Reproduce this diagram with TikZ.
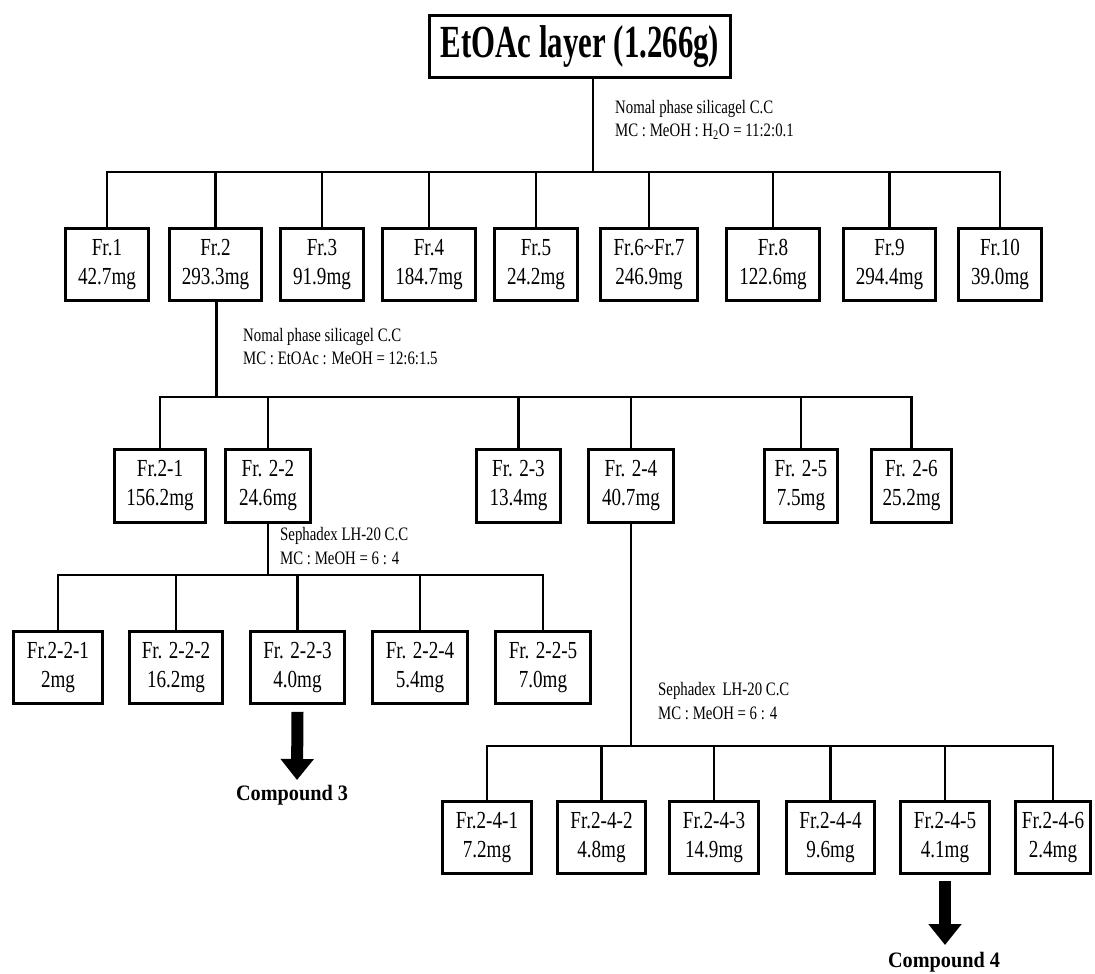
\documentclass[tikz,border=0pt]{standalone}
\usepackage{fontspec}
\setmainfont{Liberation Serif}
\newfontfamily\frfont[FakeStretch=0.78]{Liberation Serif}
\newfontfamily\titlefont[FakeStretch=0.67]{Liberation Serif}
\newfontfamily\cpdfont[FakeStretch=0.92]{Liberation Serif}
\usetikzlibrary{arrows.meta,calc}
\tikzset{
  frbox/.style={draw=black, line width=2.8pt, fill=white, inner sep=0pt, align=center,
    font=\frfont\fontsize{24.5}{29}\selectfont},
  topbox/.style={draw=black, line width=3pt, fill=white, inner sep=0pt,
    font=\titlefont\bfseries\fontsize{46}{50}\selectfont},
  conn/.style={line width=2.5pt},
  note/.style={anchor=west, align=left, inner sep=0pt,
    font=\frfont\fontsize{19}{23.5}\selectfont},
  fat/.style={line width=12pt, -{Triangle[width=32pt,length=21pt]}},
  cpd/.style={inner sep=0pt, font=\cpdfont\bfseries\fontsize{22}{26}\selectfont},
}
\begin{document}
\begin{tikzpicture}[x=1pt,y=-1pt]
\fill[white] (0,0) rectangle (1095,974);
\useasboundingbox (0,0) rectangle (1095,974);

% top
\node[topbox, minimum width=301pt, minimum height=62pt] (top) at (580,46.5) {EtOAc layer (1.266g)};
\coordinate (b1) at (593,172);
\node[note] (n1) at (615,120) {Nomal phase silicagel C.C\\MC : MeOH : H\textsubscript{2}O = 11:2:0.1};

% level 1
\node[frbox, minimum width=83pt, minimum height=72pt] (f1) at (107,264.5) {Fr.1\\42.7mg};
\node[frbox, minimum width=92pt, minimum height=72pt] (f2) at (215.5,264.5) {Fr.2\\293.3mg};
\node[frbox, minimum width=83pt, minimum height=72pt] (f3) at (322,264.5) {Fr.3\\91.9mg};
\node[frbox, minimum width=93pt, minimum height=72pt] (f4) at (429,264.5) {Fr.4\\184.7mg};
\node[frbox, minimum width=83pt, minimum height=72pt] (f5) at (536,264.5) {Fr.5\\24.2mg};
\node[frbox, minimum width=97pt, minimum height=72pt] (f67) at (649,264.5) {Fr.6\textasciitilde Fr.7\\246.9mg};
\node[frbox, minimum width=93pt, minimum height=72pt] (f8) at (773,264.5) {Fr.8\\122.6mg};
\node[frbox, minimum width=92pt, minimum height=72pt] (f9) at (889.5,264.5) {Fr.9\\294.4mg};
\node[frbox, minimum width=83pt, minimum height=72pt] (f10) at (1000,264.5) {Fr.10\\39.0mg};

\draw[conn] (top.south -| b1) -- (b1);
\draw[conn] (f1.north) |- (b1) -| (f10.north);
\foreach \n in {f2,f3,f4,f5,f67,f8,f9}{\draw[conn] (\n.north) -- (\n.north |- b1);}

% level 2
\coordinate (b2) at (216.5,397);
\node[note] (n2) at (243,346.5) {Nomal phase silicagel C.C\\MC : EtOAc : MeOH = 12:6:1.5};
\node[frbox, minimum width=91pt, minimum height=73pt] (f21) at (160,486) {Fr.2-1\\156.2mg};
\node[frbox, minimum width=85pt, minimum height=73pt] (f22) at (268,486) {Fr. 2-2\\24.6mg};
\node[frbox, minimum width=84pt, minimum height=73pt] (f23) at (518.5,486) {Fr. 2-3\\13.4mg};
\node[frbox, minimum width=85pt, minimum height=73pt] (f24) at (631,486) {Fr. 2-4\\40.7mg};
\node[frbox, minimum width=73pt, minimum height=73pt] (f25) at (801,486) {Fr. 2-5\\7.5mg};
\node[frbox, minimum width=80pt, minimum height=73pt] (f26) at (911.5,486) {Fr. 2-6\\25.2mg};

\draw[conn] (f2.south -| b2) -- (b2);
\draw[conn] (f21.north) |- (b2) -| (f26.north);
\foreach \n in {f22,f23,f24,f25}{\draw[conn] (\n.north) -- (\n.north |- b2);}

% level 3a
\coordinate (b3) at (268,575);
\node[note] (n3) at (280,546) {Sephadex LH-20 C.C\\MC : MeOH = 6 : 4};
\node[frbox, minimum width=89pt, minimum height=72pt] (f221) at (58,667.5) {Fr.2-2-1\\2mg};
\node[frbox, minimum width=93pt, minimum height=72pt] (f222) at (176,667.5) {Fr. 2-2-2\\16.2mg};
\node[frbox, minimum width=94pt, minimum height=72pt] (f223) at (297.5,667.5) {Fr. 2-2-3\\4.0mg};
\node[frbox, minimum width=95pt, minimum height=72pt] (f224) at (420,667.5) {Fr. 2-2-4\\5.4mg};
\node[frbox, minimum width=95pt, minimum height=72pt] (f225) at (543,667.5) {Fr. 2-2-5\\7.0mg};

\draw[conn] (f22.south) -- (f22.south |- b3);
\draw[conn] (f221.north) |- (b3) -| (f225.north);
\foreach \n in {f222,f223,f224}{\draw[conn] (\n.north) -- (\n.north |- b3);}

\coordinate (t3) at (297,780);
\node[cpd] (c3) at (292,795) {Compound 3};
\draw[fat] ([yshift=-7pt]f223.south) -- (t3);

% level 3b
\coordinate (b4) at (631,746);
\node[note] (n4) at (658,701) {Sephadex\, LH-20 C.C\\MC : MeOH = 6 : 4};
\node[frbox, minimum width=89pt, minimum height=72pt] (f241) at (487,837.5) {Fr.2-4-1\\7.2mg};
\node[frbox, minimum width=88pt, minimum height=72pt] (f242) at (601.5,837.5) {Fr.2-4-2\\4.8mg};
\node[frbox, minimum width=89pt, minimum height=72pt] (f243) at (714,837.5) {Fr.2-4-3\\14.9mg};
\node[frbox, minimum width=88pt, minimum height=72pt] (f244) at (830.5,837.5) {Fr.2-4-4\\9.6mg};
\node[frbox, minimum width=89pt, minimum height=72pt] (f245) at (945,837.5) {Fr.2-4-5\\4.1mg};
\node[frbox, minimum width=75pt, minimum height=72pt] (f246) at (1053,837.5) {Fr.2-4-6\\2.4mg};

\draw[conn] (f24.south) -- (f24.south |- b4);
\draw[conn] (f241.north) |- (b4) -| (f246.north);
\foreach \n in {f242,f243,f244,f245}{\draw[conn] (\n.north) -- (\n.north |- b4);}

\coordinate (t4) at (945,945);
\node[cpd] (c4) at (944,962) {Compound 4};
\draw[fat] ([yshift=-6pt]f245.south) -- (t4);
\end{tikzpicture}
\end{document}
